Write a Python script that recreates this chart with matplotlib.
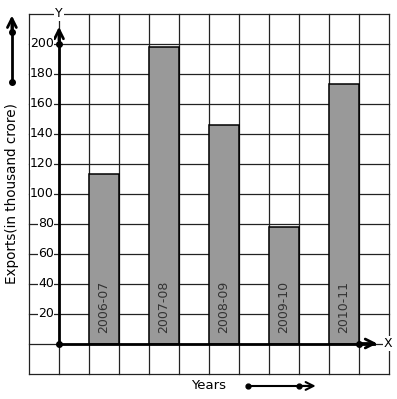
import matplotlib
matplotlib.use("Agg")
from matplotlib import pyplot as plt
import numpy as np

years = ["2006-07", "2007-08", "2008-09", "2009-10", "2010-11"]
exports = [113, 198, 146, 78, 173]
yticks = [20, 40, 60, 80, 100, 120, 140, 160, 180, 200]

fig = plt.figure(figsize=(3.97, 3.99), dpi=100)
ax = fig.add_axes([0, 0, 1, 1])
# 1 grid cell = 30 px; x in cells, y in export units (20 per cell)
ax.set_xlim(-59 / 30, (397 - 59) / 30)
ax.set_ylim(-(399 - 343.5) / 1.5, 343.5 / 1.5)
ax.axis("off")

# grid paper
for gx in range(-1, 12):
    ax.plot([gx, gx], [-20, 220], color="#222222", lw=0.9, zorder=1)
for gy in range(-20, 221, 20):
    ax.plot([-1, 11], [gy, gy], color="#222222", lw=0.9, zorder=1)

# bars
pos = np.arange(len(years)) * 2 + 1.5
ax.bar(pos, exports, width=1, color="#999999", edgecolor="black", lw=1.1, zorder=3)
for p, lab in zip(pos, years):
    ax.text(p, 7, lab, rotation=90, ha="center", va="bottom", fontsize=9,
            color="#333333", zorder=4)

# axes with arrows
ax.plot([0, 0], [0, 208], color="black", lw=2, zorder=5)
ax.annotate("", xy=(0, 213), xytext=(0, 200),
            arrowprops=dict(arrowstyle="->", lw=2, mutation_scale=16), zorder=5)
ax.plot([0, 10.5], [0, 0], color="black", lw=2, zorder=5)
ax.annotate("", xy=(10.7, 0), xytext=(10, 0),
            arrowprops=dict(arrowstyle="->", lw=2, mutation_scale=16), zorder=5)
ax.plot([0, 0, 10], [0, 200, 0], "o", color="black", ms=4, zorder=6)
ax.text(0, 220, "Y", ha="center", va="center", fontsize=9,
        bbox=dict(facecolor="white", edgecolor="none", pad=0.5), zorder=6)
ax.text(10.97, 0, "X", ha="center", va="center", fontsize=9,
        bbox=dict(facecolor="white", edgecolor="none", pad=0.5), zorder=6)

for t in yticks:
    ax.text(-0.17, t, str(t), ha="right", va="center", fontsize=9,
            bbox=dict(facecolor="white", edgecolor="none", pad=0.3), zorder=6)

# axis titles with decorative arrows
ax.text(-1.57, 100.3, "Exports(in thousand crore)", rotation=90, ha="center",
        va="center", fontsize=9.75)
ax.plot([-1.57, -1.57], [174.3, 215], color="black", lw=2)
ax.annotate("", xy=(-1.57, 220.5), xytext=(-1.57, 205),
            arrowprops=dict(arrowstyle="->", lw=2, mutation_scale=16))
ax.plot([-1.57, -1.57], [174.3, 207.7], "o", color="black", ms=4)

ax.text(5, -28.3, "Years", ha="center", va="center", fontsize=9.5)
ax.plot([6.3, 8.3], [-28.3, -28.3], color="black", lw=1.5)
ax.annotate("", xy=(8.65, -28.3), xytext=(8.0, -28.3),
            arrowprops=dict(arrowstyle="->", lw=1.5, mutation_scale=14))
ax.plot([6.3, 8.0], [-28.3, -28.3], "o", color="black", ms=3.5)

fig.savefig("out.png", dpi=100)
